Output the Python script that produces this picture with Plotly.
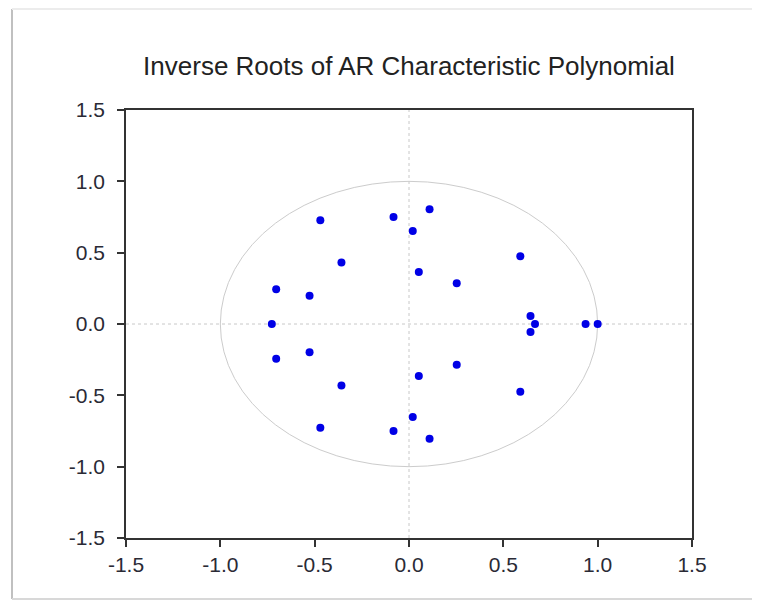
import plotly.graph_objects as go

root_re = [-0.470, -0.082, 0.109, 0.020, -0.358, 0.052, 0.253, -0.704, -0.527,
           -0.470, -0.082, 0.109, 0.020, -0.358, 0.052, 0.253, -0.704, -0.527,
           -0.727, 0.590, 0.590, 0.644, 0.644, 0.668, 0.936, 1.000]
root_im = [0.728, 0.750, 0.805, 0.652, 0.431, 0.364, 0.286, 0.243, 0.198,
           -0.728, -0.750, -0.805, -0.652, -0.431, -0.364, -0.286, -0.243, -0.198,
           0.000, 0.475, -0.475, 0.056, -0.056, 0.000, 0.000, 0.000]

tick_vals = [-1.5, -1.0, -0.5, 0.0, 0.5, 1.0, 1.5]
tick_text = ["-1.5", "-1.0", "-0.5", "0.0", "0.5", "1.0", "1.5"]

W, H = 752, 603
ML, MR, MT, MB = 118, 68, 102, 73
PW, PH = W - ML - MR, H - MT - MB

fig = go.Figure()
fig.add_trace(go.Scatter(x=root_re, y=root_im, mode="markers",
                         marker=dict(color="#0000e6", size=8, line=dict(width=0)),
                         showlegend=False, hoverinfo="x+y"))

# unit circle and zero reference lines
fig.add_shape(type="circle", xref="x", yref="y", x0=-1, y0=-1, x1=1, y1=1,
              line=dict(color="#cccccc", width=1), layer="below")
fig.add_shape(type="line", xref="x", yref="paper", x0=0, x1=0, y0=0, y1=1,
              line=dict(color="#c8c8c8", width=1, dash="3px,3px"), layer="below")
fig.add_shape(type="line", xref="paper", yref="paper", x0=0, x1=1, y0=0.5, y1=0.5,
              line=dict(color="#c8c8c8", width=1, dash="3px,3px"), layer="below")

# outer window border (screenshot edges)
bx0 = (4 - ML) / PW
bx1 = (W - ML) / PW
by_top = 1 + (MT - 1) / PH
by_bot = -61 / PH
fig.add_shape(type="line", xref="paper", yref="paper", x0=bx0, x1=bx0,
              y0=by_bot, y1=by_top, line=dict(color="#c0c0c0", width=2))
fig.add_shape(type="line", xref="paper", yref="paper", x0=bx0, x1=bx1,
              y0=by_top, y1=by_top, line=dict(color="#ececec", width=2))
fig.add_shape(type="line", xref="paper", yref="paper", x0=bx0, x1=bx1,
              y0=by_bot, y1=by_bot, line=dict(color="#d8d8d8", width=2))

axis_common = dict(range=[-1.5, 1.5], tickvals=tick_vals, ticktext=tick_text,
                   showgrid=False, zeroline=False, showline=True, mirror=True,
                   linecolor="#333333", linewidth=1.5, ticks="outside", ticklen=7,
                   tickwidth=1.5, tickcolor="#333333",
                   tickfont=dict(family="Liberation Sans, Arial, sans-serif", size=21, color="#2a2a35"))

fig.update_xaxes(**axis_common)
fig.update_yaxes(**axis_common, ticklabelstandoff=8)

fig.update_layout(
    width=W, height=H,
    margin=dict(l=ML, r=MR, t=MT, b=MB),
    paper_bgcolor="white", plot_bgcolor="white",
    title=dict(text="Inverse Roots of AR Characteristic Polynomial",
               x=(409 - 8) / W, xanchor="center", y=1 - 58 / H, yanchor="middle",
               font=dict(family="Liberation Sans, Arial, sans-serif", size=26, color="#222222")),
)

fig.write_html("out.html")
